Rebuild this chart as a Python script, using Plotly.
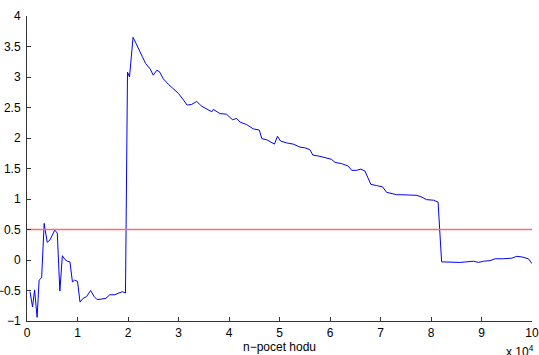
import plotly.graph_objects as go

x_vals = [0.06, 0.11, 0.15, 0.20, 0.24, 0.29, 0.34, 0.40, 0.455, 0.55, 0.60, 0.65, 0.70, 0.75, 0.80, 0.85,
          0.90, 0.94, 1.00, 1.05, 1.11, 1.18, 1.26, 1.33, 1.39, 1.48, 1.56, 1.64, 1.74, 1.82, 1.89, 1.95,
          1.99, 2.03, 2.10, 2.16, 2.22, 2.28, 2.35, 2.44, 2.50, 2.57, 2.62, 2.70, 2.80, 2.90, 3.00, 3.10,
          3.17, 3.26, 3.36, 3.46, 3.56, 3.66, 3.69, 3.82, 3.95, 4.07, 4.15, 4.22, 4.35, 4.48, 4.60, 4.65,
          4.75, 4.85, 4.90, 4.96, 5.02, 5.14, 5.27, 5.41, 5.50, 5.60, 5.66, 5.80, 5.93, 6.03, 6.10, 6.23,
          6.36, 6.43, 6.53, 6.61, 6.69, 6.74, 6.81, 6.92, 7.04, 7.12, 7.22, 7.32, 7.42, 7.58, 7.72, 7.82,
          7.91, 8.05, 8.14, 8.21, 8.38, 8.57, 8.71, 8.84, 8.94, 9.04, 9.17, 9.27, 9.43, 9.60, 9.70, 9.80,
          9.93, 10.0]
y_vals = [-0.52, -0.77, -0.49, -0.94, -0.33, -0.29, 0.60, 0.29, 0.33, 0.49, 0.44, -0.51, 0.07, 0.01, -0.02, -0.03,
          -0.36, -0.33, -0.35, -0.69, -0.63, -0.60, -0.50, -0.60, -0.65, -0.64, -0.63, -0.57, -0.57, -0.54, -0.52, -0.54,
          3.08, 3.00, 3.65, 3.55, 3.43, 3.34, 3.22, 3.13, 3.03, 3.11, 3.09, 2.97, 2.88, 2.81, 2.73, 2.62,
          2.54, 2.55, 2.60, 2.52, 2.47, 2.43, 2.47, 2.40, 2.39, 2.30, 2.32, 2.26, 2.22, 2.15, 2.13, 1.99,
          1.97, 1.93, 1.90, 2.03, 1.95, 1.92, 1.90, 1.85, 1.84, 1.81, 1.72, 1.70, 1.67, 1.65, 1.60, 1.58,
          1.54, 1.47, 1.47, 1.49, 1.46, 1.36, 1.24, 1.22, 1.20, 1.11, 1.09, 1.07, 1.07, 1.06, 1.06, 1.03,
          0.99, 0.98, 0.95, -0.03, -0.04, -0.04, -0.03, -0.02, -0.04, -0.02, -0.01, 0.02, 0.02, 0.03, 0.06, 0.05,
          0.02, -0.06]
ref_x = [0, 10]
ref_y = [0.5, 0.5]

x_ticks = list(range(0, 11))
y_ticks = [-1, -0.5, 0, 0.5, 1, 1.5, 2, 2.5, 3, 3.5, 4]

font = dict(family="Liberation Sans, Arial, sans-serif", size=12, color="#000000")

fig = go.Figure()
fig.add_trace(go.Scatter(x=x_vals, y=y_vals, mode="lines",
                         line=dict(color="#0000ff", width=1), showlegend=False))
fig.add_trace(go.Scatter(x=ref_x, y=ref_y, mode="lines",
                         line=dict(color="#ff6e6e", width=1.5), showlegend=False))

fig.update_layout(
    width=539, height=355,
    margin=dict(l=27, r=7, t=16, b=34),
    paper_bgcolor="white", plot_bgcolor="white",
    font=font,
    xaxis=dict(range=[0, 10], tickvals=x_ticks, ticks="inside", ticklen=4, tickcolor="#333",
               showline=True, linecolor="#333", linewidth=1, showgrid=False, zeroline=False,
               title=dict(text="n\u2212pocet hodu", font=font, standoff=0),
               automargin=False, fixedrange=True, ticklabelstandoff=1),
    yaxis=dict(range=[-1, 4], tickvals=y_ticks, ticks="inside", ticklen=4, tickcolor="#333",
               showline=True, linecolor="#333", linewidth=1, showgrid=False, zeroline=False,
               automargin=False, fixedrange=True, ticklabelstandoff=3),
    annotations=[dict(text="x 10<sup>4</sup>", xref="paper", yref="paper", x=1.0, y=-0.065,
                      xanchor="right", yanchor="top", showarrow=False, font=font, xshift=4)],
)

fig.write_html("out.html")
